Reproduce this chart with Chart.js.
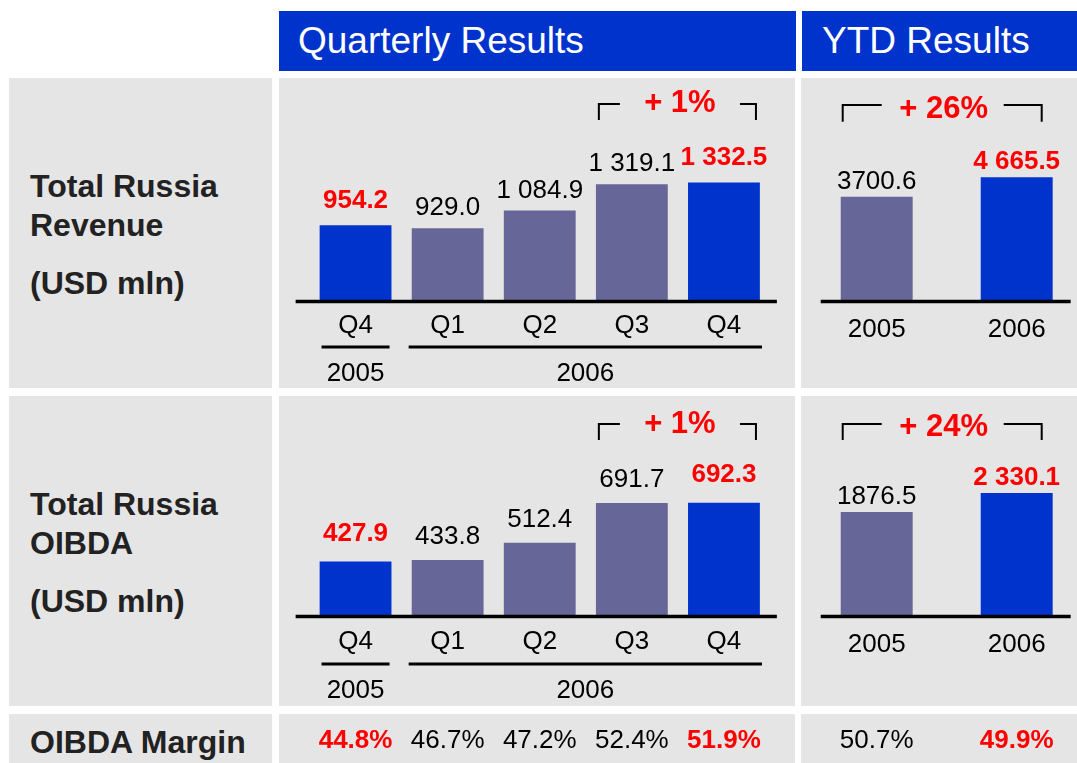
<!DOCTYPE html>
<html><head><meta charset="utf-8">
<script src="https://cdn.jsdelivr.net/npm/chart.js@4/dist/chart.umd.min.js"></script>
<style>
html,body{margin:0;padding:0;background:#fff;}
body{width:1077px;height:763px;position:relative;overflow:hidden;font-family:"Liberation Sans",Arial,sans-serif;}
.box{position:absolute;}
.gray{background:#e5e5e5;}
.blue{background:#0033cc;}
.hdr{position:absolute;color:#fff;font-size:37px;line-height:60px;white-space:nowrap;}
.lbl{position:absolute;left:30px;font-weight:bold;font-size:32px;color:#222;line-height:36px;white-space:nowrap;}
canvas{position:absolute;}
</style></head>
<body>
<div class="box blue" style="left:279px;top:11px;width:517px;height:60px"></div>
<div class="box blue" style="left:802px;top:11px;width:275px;height:60px"></div>
<div class="hdr" style="left:298px;top:11px">Quarterly Results</div>
<div class="hdr" style="left:822px;top:11px">YTD Results</div>

<div class="box gray" style="left:9px;top:78px;width:263px;height:310px"></div>
<div class="box gray" style="left:279px;top:78px;width:516px;height:310px"></div>
<div class="box gray" style="left:801px;top:78px;width:276px;height:310px"></div>
<div class="box gray" style="left:9px;top:396px;width:263px;height:310px"></div>
<div class="box gray" style="left:279px;top:396px;width:516px;height:310px"></div>
<div class="box gray" style="left:801px;top:396px;width:276px;height:310px"></div>
<div class="box gray" style="left:9px;top:714px;width:263px;height:49px"></div>
<div class="box gray" style="left:279px;top:714px;width:516px;height:49px"></div>
<div class="box gray" style="left:801px;top:714px;width:276px;height:49px"></div>

<div class="lbl" style="top:168px">Total Russia</div>
<div class="lbl" style="top:207px">Revenue</div>
<div class="lbl" style="top:265px">(USD mln)</div>
<div class="lbl" style="top:486px">Total Russia</div>
<div class="lbl" style="top:525px">OIBDA</div>
<div class="lbl" style="top:583px">(USD mln)</div>
<div class="lbl" style="top:724px">OIBDA Margin</div>

<canvas id="revQ" width="516" height="310" style="left:279px;top:78px"></canvas>
<canvas id="revY" width="290" height="310" style="left:801px;top:78px"></canvas>
<canvas id="oibQ" width="516" height="367" style="left:279px;top:396px"></canvas>
<canvas id="oibY" width="290" height="367" style="left:801px;top:396px"></canvas>

<script>
// ---- data ----
const quarterCats = ['Q4', 'Q1', 'Q2', 'Q3', 'Q4'];
const quarterYears = ['2005', '2006'];
const ytdCats = ['2005', '2006'];
const quarterHighlight = [true, false, false, false, true];
const ytdHighlight = [false, true];

const revenueQ = [954.2, 929.0, 1084.9, 1319.1, 1332.5];
const revenueQLabels = ['954.2', '929.0', '1 084.9', '1 319.1', '1 332.5'];
const revenueYTD = [3700.6, 4665.5];
const revenueYTDLabels = ['3700.6', '4 665.5'];

const oibdaQ = [427.9, 433.8, 512.4, 691.7, 692.3];
const oibdaQLabels = ['427.9', '433.8', '512.4', '691.7', '692.3'];
const oibdaYTD = [1876.5, 2330.1];
const oibdaYTDLabels = ['1876.5', '2 330.1'];

const marginQ = ['44.8%', '46.7%', '47.2%', '52.4%', '51.9%'];
const marginYTD = ['50.7%', '49.9%'];

const growthRevQ = '+ 1%';
const growthRevYTD = '+ 26%';
const growthOibQ = '+ 1%';
const growthOibYTD = '+ 24%';

// ---- style ----
const BLUE = '#0033cc';
const PURPLE = '#666699';
const RED = '#ff0000';
const FONT = '"Liberation Sans", Arial, sans-serif';
Chart.defaults.font.family = FONT;

const decoPlugin = {
  id: 'deco',
  afterDatasetsDraw(chart, args, o) {
    const ctx = chart.ctx, ca = chart.chartArea;
    const bars = chart.getDatasetMeta(0).data;
    const first = bars[0], last = bars[bars.length - 1];
    ctx.save();
    // baseline
    ctx.strokeStyle = '#000';
    ctx.lineWidth = 3.5;
    ctx.beginPath();
    ctx.moveTo(first.x - first.width / 2 - o.lineLeft, ca.bottom + 1.5);
    ctx.lineTo(last.x + last.width / 2 + o.lineRight, ca.bottom + 1.5);
    ctx.stroke();
    // value labels
    ctx.textAlign = 'center';
    ctx.textBaseline = 'middle';
    bars.forEach((bar, i) => {
      const hi = o.highlight[i];
      ctx.font = (hi ? 'bold ' : '') + '26px ' + FONT;
      ctx.fillStyle = hi ? RED : '#000';
      ctx.fillText(o.labels[i], bar.x, bar.y - (hi ? o.offHi : o.off));
    });
    // growth bracket
    const g = o.growth;
    const a = bars[g.from], b = bars[g.to];
    ctx.lineWidth = 2;
    ctx.strokeStyle = '#000';
    ctx.beginPath();
    ctx.moveTo(a.x + g.l1, g.bottom); ctx.lineTo(a.x + g.l1, g.top); ctx.lineTo(a.x + g.l2, g.top);
    ctx.moveTo(b.x + g.r1, g.top); ctx.lineTo(b.x + g.r2, g.top); ctx.lineTo(b.x + g.r2, g.bottom);
    ctx.stroke();
    ctx.font = 'bold 31px ' + FONT;
    ctx.fillStyle = RED;
    ctx.fillText(g.text, (a.x + b.x) / 2 + g.dx, g.ty);
    // year groups
    if (o.years) {
      ctx.lineWidth = 3;
      const yl = ca.bottom + o.years.lineOff;
      const x1a = bars[0].x - 34, x1b = bars[0].x + 34;
      const x2a = bars[1].x - 39, x2b = last.x + 38;
      ctx.beginPath();
      ctx.moveTo(x1a, yl); ctx.lineTo(x1b, yl);
      ctx.moveTo(x2a, yl); ctx.lineTo(x2b, yl);
      ctx.stroke();
      ctx.font = '26px ' + FONT;
      ctx.fillStyle = '#000';
      ctx.fillText(o.years.text[0], (x1a + x1b) / 2, ca.bottom + o.years.textOff);
      ctx.fillText(o.years.text[1], (x2a + x2b) / 2, ca.bottom + o.years.textOff);
    }
    // margin row
    if (o.margin) {
      bars.forEach((bar, i) => {
        const hi = o.highlight[i];
        ctx.font = (hi ? 'bold ' : '') + '26px ' + FONT;
        ctx.fillStyle = hi ? RED : '#000';
        ctx.fillText(o.margin[i], bar.x, ca.bottom + 126);
      });
    }
    ctx.restore();
  }
};

function makeChart(id, cats, values, highlight, yMin, yMax, axisH, tickSize, tickPad, padL, padR, barPct, deco) {
  return new Chart(document.getElementById(id), {
    type: 'bar',
    data: {
      labels: cats,
      datasets: [{
        data: values,
        base: yMin,
        backgroundColor: highlight.map(h => h ? BLUE : PURPLE),
        borderWidth: 0,
        barPercentage: barPct,
        categoryPercentage: 1
      }]
    },
    options: {
      responsive: false,
      animation: false,
      devicePixelRatio: 1,
      layout: { padding: { left: padL, right: padR, top: 0, bottom: 0 } },
      plugins: { legend: { display: false }, tooltip: { enabled: false }, deco: deco },
      scales: {
        x: {
          type: 'category',
          grid: { display: false, drawTicks: false },
          border: { display: false },
          ticks: { color: '#000', font: { size: tickSize }, padding: tickPad, maxRotation: 0, autoSkip: false },
          afterFit: s => { s.height = axisH; }
        },
        y: { display: false, min: yMin, max: yMax }
      }
    },
    plugins: [decoPlugin]
  });
}

makeChart('revQ', quarterCats, revenueQ, quarterHighlight, 293, 2259, 88, 26, 10, 30.5, 25, 0.78, {
  labels: revenueQLabels, highlight: quarterHighlight, off: 20, offHi: 25, lineLeft: 24, lineRight: 17,
  growth: { from: 3, to: 4, l1: -33, l2: -12, r1: 16, r2: 32, top: 26, bottom: 42, text: growthRevQ, dx: 2, ty: 25.7 },
  years: { text: quarterYears, lineOff: 47, textOff: 73.5 }
});
makeChart('revY', ytdCats, revenueYTD, ytdHighlight, -1439, 9606, 88, 26, 14, 5.7, 4.3, 0.514, {
  labels: revenueYTDLabels, highlight: ytdHighlight, off: 15, offHi: 15.5, lineLeft: 20, lineRight: 18,
  growth: { from: 0, to: 1, l1: -34, l2: 5, r1: -13, r2: 25, top: 27, bottom: 43.7, text: growthRevYTD, dx: -3, ty: 31 }
});
makeChart('oibQ', quarterCats, oibdaQ, quarterHighlight, 186.5, 1173.4, 148, 26, 11, 30.5, 25, 0.78, {
  labels: oibdaQLabels, highlight: quarterHighlight, off: 23, offHi: 28, lineLeft: 24, lineRight: 17,
  growth: { from: 3, to: 4, l1: -33, l2: -12, r1: 16, r2: 32, top: 28, bottom: 44, text: growthOibQ, dx: 2, ty: 28.3 },
  years: { text: quarterYears, lineOff: 49, textOff: 76 },
  margin: marginQ
});
makeChart('oibY', ytdCats, oibdaYTD, ytdHighlight, -582, 4646, 148, 26, 14, 5.7, 4.3, 0.514, {
  labels: oibdaYTDLabels, highlight: ytdHighlight, off: 15, offHi: 15.5, lineLeft: 20, lineRight: 18,
  growth: { from: 0, to: 1, l1: -34, l2: 5, r1: -13, r2: 25, top: 28, bottom: 44, text: growthOibYTD, dx: -3, ty: 31 },
  margin: marginYTD
});
</script>
</body></html>
